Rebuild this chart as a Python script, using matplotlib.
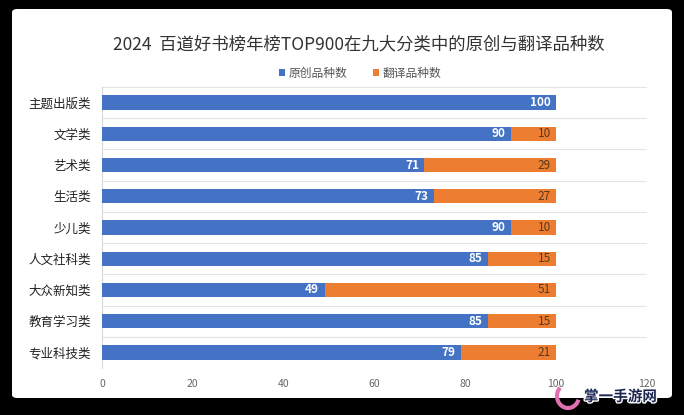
import matplotlib
matplotlib.use("Agg")
import matplotlib.pyplot as plt
from matplotlib.patches import FancyBboxPatch, Arc
import matplotlib.patheffects as pe

plt.rcParams['font.family'] = ['Noto Sans CJK SC', 'DejaVu Sans']

categories = ["主题出版类", "文学类", "艺术类", "生活类", "少儿类", "人文社科类", "大众新知类", "教育学习类", "专业科技类"]
original = [100, 90, 71, 73, 90, 85, 49, 85, 79]
translated = [0, 10, 29, 27, 10, 15, 51, 15, 21]
xticks = [0, 20, 40, 60, 80, 100, 120]
title = "2024  百道好书榜年榜TOP900在九大分类中的原创与翻译品种数"

blue = "#4472C4"
orange = "#ED7D31"

W, H = 684, 415
fig = plt.figure(figsize=(W/100, H/100), dpi=100)
fig.patch.set_facecolor("black")
bg = FancyBboxPatch((12/W, 17/H), 660/W, 389/H, boxstyle="round,pad=0,rounding_size=0.008",
                    transform=fig.transFigure, facecolor="white", edgecolor="none", zorder=-10)
fig.patches.append(bg)

ax = fig.add_axes([102/W, 1-368/H, (647-102)/W, (368-87)/H])
ax.set_facecolor("none")
y = list(range(len(categories)))
ax.barh(y, original, height=0.46, color=blue, label="原创品种数", zorder=3)
ax.barh(y, translated, left=original, height=0.46, color=orange, label="翻译品种数", zorder=3)

for i in y:
    ax.text(original[i] - 1.2, i, str(original[i]), ha="right", va="center",
            color="white", fontsize=8.5, fontweight="bold", zorder=4)
    if translated[i] > 0:
        ax.text(original[i] + translated[i] - 1.2, i, str(translated[i]), ha="right", va="center",
                color="#5a3a1a", fontsize=8.5, zorder=4)

ax.set_xlim(0, 120)
ax.set_ylim(len(categories) - 0.5, -0.5)
ax.set_xticks(xticks)
ax.set_xticklabels([str(t) for t in xticks], color="#666666", fontsize=7.5)
ax.set_yticks(y)
ax.set_yticklabels(categories, fontsize=9, color="#222222")
ax.set_yticks([i + 0.5 for i in range(-1, len(categories))], minor=True)
ax.tick_params(axis="y", which="both", length=0, pad=8)
ax.tick_params(axis="x", length=0, pad=8)
ax.grid(axis="y", which="minor", color="#e4e4e4", linewidth=0.8, zorder=0)
for s in ["top", "right", "bottom"]:
    ax.spines[s].set_visible(False)
ax.spines["left"].set_color("#d9d9d9")

fig.text(0.525, 1-44/H, title, ha="center", va="center", fontsize=12.5, color="#333333")
leg = fig.legend(loc="center", bbox_to_anchor=(0.527, 1-73/H), ncol=2, frameon=False,
                 fontsize=8.5, handlelength=0.5, handleheight=0.5, columnspacing=2.2, handletextpad=0.3)
for t in leg.get_texts():
    t.set_color("#555555")

# watermark
fig.text(584/W, 1-396/H, "掌一手游网", fontsize=10.5, color="#1b2550", ha="left", va="center",
         fontweight="bold", path_effects=[pe.withStroke(linewidth=2, foreground="white")], zorder=20)
arc = Arc((568/W, 1-396/H), 22/W, 24/H, theta1=120, theta2=330, transform=fig.transFigure,
          color="#e070b0", linewidth=3, zorder=20)
fig.patches.append(arc)

fig.savefig("out.png", dpi=100, facecolor=fig.get_facecolor())
